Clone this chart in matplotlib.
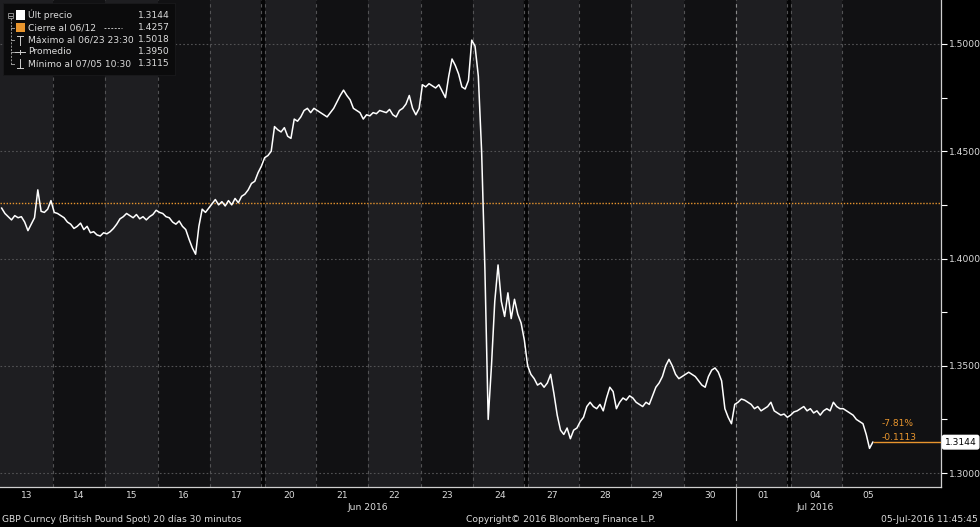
import matplotlib
matplotlib.use("Agg")
import matplotlib.pyplot as plt
import matplotlib.transforms as mtransforms
import numpy as np
import pandas as pd
from matplotlib.lines import Line2D
from matplotlib.patches import Rectangle

# Trading sessions shown on the chart
sessions = ["2016-06-13", "2016-06-14", "2016-06-15", "2016-06-16", "2016-06-17",
            "2016-06-20", "2016-06-21", "2016-06-22", "2016-06-23", "2016-06-24",
            "2016-06-27", "2016-06-28", "2016-06-29", "2016-06-30", "2016-07-01",
            "2016-07-04", "2016-07-05"]

# GBP spot (intraday samples per session)
jun13 = [1.4235, 1.4210, 1.4195, 1.4180, 1.4200, 1.4190, 1.4195, 1.4170,
         1.4130, 1.4160, 1.4190, 1.4320, 1.4220, 1.4215, 1.4230, 1.4270]
jun14 = [1.4215, 1.4210, 1.4200, 1.4190, 1.4170, 1.4160, 1.4140, 1.4150,
         1.4165, 1.4135, 1.4150, 1.4120, 1.4125, 1.4110, 1.4105, 1.4120]
jun15 = [1.4115, 1.4125, 1.4140, 1.4160, 1.4185, 1.4195, 1.4210, 1.4200,
         1.4190, 1.4205, 1.4185, 1.4195, 1.4180, 1.4195, 1.4205, 1.4225]
jun16 = [1.4215, 1.4210, 1.4195, 1.4190, 1.4170, 1.4160, 1.4175, 1.4150,
         1.4135, 1.4090, 1.4050, 1.4020, 1.4150, 1.4230, 1.4215, 1.4235]
jun17 = [1.4255, 1.4275, 1.4250, 1.4265, 1.4245, 1.4270, 1.4250, 1.4280,
         1.4260, 1.4290, 1.4300, 1.4320, 1.4350, 1.4360, 1.4400, 1.4430]
jun20 = [1.4470, 1.4480, 1.4500, 1.4615, 1.4600, 1.4590, 1.4610, 1.4570,
         1.4560, 1.4650, 1.4640, 1.4660, 1.4690, 1.4700, 1.4680, 1.4700]
jun21 = [1.4690, 1.4680, 1.4670, 1.4660, 1.4680, 1.4700, 1.4730, 1.4760,
         1.4785, 1.4760, 1.4740, 1.4700, 1.4690, 1.4680, 1.4650, 1.4670]
jun22 = [1.4665, 1.4680, 1.4675, 1.4690, 1.4685, 1.4680, 1.4695, 1.4670,
         1.4660, 1.4690, 1.4700, 1.4720, 1.4760, 1.4700, 1.4670, 1.4700]
jun23 = [1.4810, 1.4800, 1.4815, 1.4805, 1.4795, 1.4810, 1.4780, 1.4750,
         1.4850, 1.4930, 1.4900, 1.4860, 1.4800, 1.4790, 1.4830, 1.5018]
jun24 = [1.4990, 1.4850, 1.4500, 1.3950, 1.3250, 1.3500, 1.3800, 1.3970,
         1.3800, 1.3730, 1.3840, 1.3720, 1.3810, 1.3740, 1.3700, 1.3620]
jun27 = [1.3500, 1.3460, 1.3440, 1.3410, 1.3420, 1.3400, 1.3420, 1.3460,
         1.3370, 1.3270, 1.3200, 1.3180, 1.3210, 1.3160, 1.3200, 1.3210]
jun28 = [1.3240, 1.3260, 1.3310, 1.3330, 1.3310, 1.3300, 1.3320, 1.3290,
         1.3350, 1.3400, 1.3380, 1.3300, 1.3330, 1.3350, 1.3340, 1.3360]
jun29 = [1.3350, 1.3330, 1.3320, 1.3310, 1.3330, 1.3320, 1.3360, 1.3400,
         1.3420, 1.3450, 1.3500, 1.3530, 1.3500, 1.3460, 1.3440, 1.3450]
jun30 = [1.3460, 1.3470, 1.3460, 1.3450, 1.3430, 1.3410, 1.3400, 1.3450,
         1.3480, 1.3490, 1.3470, 1.3430, 1.3300, 1.3260, 1.3230, 1.3320]
jul01 = [1.3330, 1.3345, 1.3340, 1.3330, 1.3320, 1.3300, 1.3310, 1.3290,
         1.3300, 1.3310, 1.3330, 1.3290, 1.3280, 1.3270, 1.3275, 1.3260]
jul04 = [1.3270, 1.3285, 1.3290, 1.3300, 1.3310, 1.3290, 1.3300, 1.3280,
         1.3290, 1.3270, 1.3290, 1.3300, 1.3290, 1.3330, 1.3310, 1.3300]
jul05 = [1.3300, 1.3290, 1.3280, 1.3270, 1.3250, 1.3240, 1.3230, 1.3180,
         1.3115, 1.3144]

samples_per_session = 16
last_price = 1.3144
prev_close = 1.4257
change_pct = "-7.81%"
change_abs = "-0.1113"

legend_labels = ["Últ precio", "Cierre al 06/12", "Máximo al 06/23 23:30",
                 "Promedio", "Mínimo al 07/05 10:30"]
legend_values = ["1.3144", "1.4257", "1.5018", "1.3950", "1.3115"]

y_ticks = [1.30, 1.35, 1.40, 1.45, 1.50]

W, H = 980, 527
LIGHT = "#1e1e21"
DARK = "#111113"
GRID = "#525254"
ORANGE = "#e8952e"
TXT = "#dcdcdc"
FS = 6.6


def fx(x):
    return x / W


def fy(y):
    return 1 - y / H


fig = plt.figure(figsize=(W / 100, H / 100), dpi=100, facecolor="black")
ax = fig.add_axes([0, fy(487), fx(941), 487 / H])
ax.set_facecolor(DARK)

dates = pd.to_datetime(sessions)
x_end = 17.89
ax.set_xlim(0, x_end)
ax.set_ylim(1.2935, 1.5205)

# session background shading (alternating within the week)
for i, d in enumerate(dates):
    right = i + 1 if i < len(dates) - 1 else x_end
    ax.axvspan(i, right, color=DARK if d.weekday() % 2 else LIGHT, lw=0, zorder=0)

# session separators
for i in range(1, len(dates)):
    gap = (dates[i] - dates[i - 1]).days
    if gap > 1:
        ax.axvline(i, color="#050506", lw=3.2, zorder=1)
        for off in (-0.045, 0.045):
            ax.axvline(i + off, color=GRID, lw=0.8, ls=(0, (3, 3)), zorder=1)
    else:
        ax.axvline(i, color=GRID, lw=0.8, ls=(0, (3, 3)), zorder=1)

for v in y_ticks:
    ax.axhline(v, color=GRID, lw=0.8, ls=(0, (1.5, 2)), zorder=1)

# previous close reference
ax.axhline(prev_close, color=ORANGE, lw=1.0, ls=(0, (1, 1.2)), zorder=2)

# price line
day_series = [jun13, jun14, jun15, jun16, jun17, jun20, jun21, jun22, jun23,
              jun24, jun27, jun28, jun29, jun30, jul01, jul04, jul05]
xs, ys = [], []
for i, vals in enumerate(day_series):
    for k, v in enumerate(vals):
        xs.append(i + (k + 0.5) / samples_per_session)
        ys.append(v)
ax.plot(xs, ys, color="white", lw=1.1, zorder=3)

# last price marker
ax.hlines(last_price, xs[-1], x_end, color=ORANGE, lw=1.0, zorder=3)
ax.text(x_end + 0.07, last_price, "1.3144", color="black", fontsize=FS,
        ha="left", va="center", clip_on=False, zorder=5,
        bbox=dict(boxstyle="round,pad=0.25,rounding_size=0.2", fc="white", ec="white"))
ax.annotate(change_pct, (xs[-1], last_price), xytext=(6, 13.5), textcoords="offset points",
            color=ORANGE, fontsize=FS, va="center", ha="left")
ax.annotate(change_abs, (xs[-1], last_price), xytext=(6, 3.5), textcoords="offset points",
            color=ORANGE, fontsize=FS, va="center", ha="left")

# axes styling
ax.yaxis.tick_right()
ax.set_yticks(y_ticks)
ax.set_yticklabels([f"{v:.4f}" for v in y_ticks])
ax.set_yticks([v + 0.025 for v in y_ticks[:-1]], minor=True)
ax.tick_params(axis="y", which="both", colors="white", labelcolor=TXT,
               labelsize=FS, length=4, width=0.8, direction="out", pad=2)
ax.set_xticks([i + 0.5 for i in range(len(dates))])
ax.set_xticklabels([d.strftime("%d") for d in dates])
ax.tick_params(axis="x", length=0, labelcolor=TXT, labelsize=FS, pad=3)
for side in ("top", "left"):
    ax.spines[side].set_visible(False)
for side in ("right", "bottom"):
    ax.spines[side].set_color("#cfcfcf")
    ax.spines[side].set_linewidth(0.9)

# month labels and month divider
blend = mtransforms.blended_transform_factory(ax.transData, fig.transFigure)
for i in range(1, len(dates)):
    if dates[i].month != dates[i - 1].month:
        fig.add_artist(Line2D([i, i], [fy(487), fy(520)], transform=blend,
                              color="#bdbdbd", lw=0.8))
        ax.axvline(i, color="#8a8a8a", lw=0.8, ls=(0, (3, 3)), zorder=1)
months = dates.to_period("M")
for m in months.unique():
    idx = np.where(months == m)[0]
    centre = (idx[0] + idx[-1] + 1) / 2
    fig.text(centre, fy(507), m.strftime("%b %Y"), transform=blend,
             color=TXT, fontsize=FS, ha="center", va="center")

# legend box
fig.add_artist(Rectangle((fx(3), fy(75)), fx(172), 72 / H, transform=fig.transFigure,
                         fc="#0b0b0c", ec="#1a1a1c", lw=0.6, zorder=6))
row_y = [15, 27.5, 40, 52, 64]
for lab, val, yy in zip(legend_labels, legend_values, row_y):
    fig.text(fx(28), fy(yy), lab, color=TXT, fontsize=FS, va="center", ha="left", zorder=7)
    fig.text(fx(170), fy(yy), val, color=TXT, fontsize=FS, va="center", ha="right", zorder=7)


def seg(x0, y0, x1, y1, color="#9a9a9a", lw=0.7, ls="-"):
    fig.add_artist(Line2D([fx(x0), fx(x1)], [fy(y0), fy(y1)], transform=fig.transFigure,
                          color=color, lw=lw, ls=ls, zorder=7))


# tree glyphs
fig.add_artist(Rectangle((fx(8), fy(18)), fx(5), 5 / H, transform=fig.transFigure,
                         fc="none", ec="#9a9a9a", lw=0.6, zorder=7))
seg(9, 15.5, 12, 15.5)
seg(10.5, 18, 10.5, 64, ls=(0, (2, 1.5)))
for yy in row_y[1:]:
    seg(10.5, yy, 14, yy)
fig.add_artist(Rectangle((fx(16), fy(19.5)), fx(9), 9 / H, transform=fig.transFigure,
                         fc="white", ec="none", zorder=7))
fig.add_artist(Rectangle((fx(16), fy(32)), fx(9), 9 / H, transform=fig.transFigure,
                         fc=ORANGE, ec="none", zorder=7))
seg(17, 35.5, 23, 35.5, color="#cfcfcf")
seg(20, 35.5, 20, 45, color="#cfcfcf")
seg(15, 52, 25, 52, color="#cfcfcf")
seg(20, 50, 20, 54, color="#cfcfcf")
seg(20, 59, 20, 68, color="#cfcfcf")
seg(17, 68, 23, 68, color="#cfcfcf")
seg(104, 27.5, 122, 27.5, color="#bbbbbb", ls=(0, (2, 1.5)))

# footer
fig.text(fx(2), fy(520), "GBP Curncy (British Pound Spot) 20 días 30 minutos",
         color=TXT, fontsize=FS, ha="left", va="center")
fig.text(fx(561), fy(520), "Copyright© 2016 Bloomberg Finance L.P.",
         color=TXT, fontsize=FS, ha="center", va="center")
fig.text(fx(978), fy(520), "05-Jul-2016 11:45:45",
         color=TXT, fontsize=FS, ha="right", va="center")

fig.savefig("out.png", dpi=100, facecolor="black")
